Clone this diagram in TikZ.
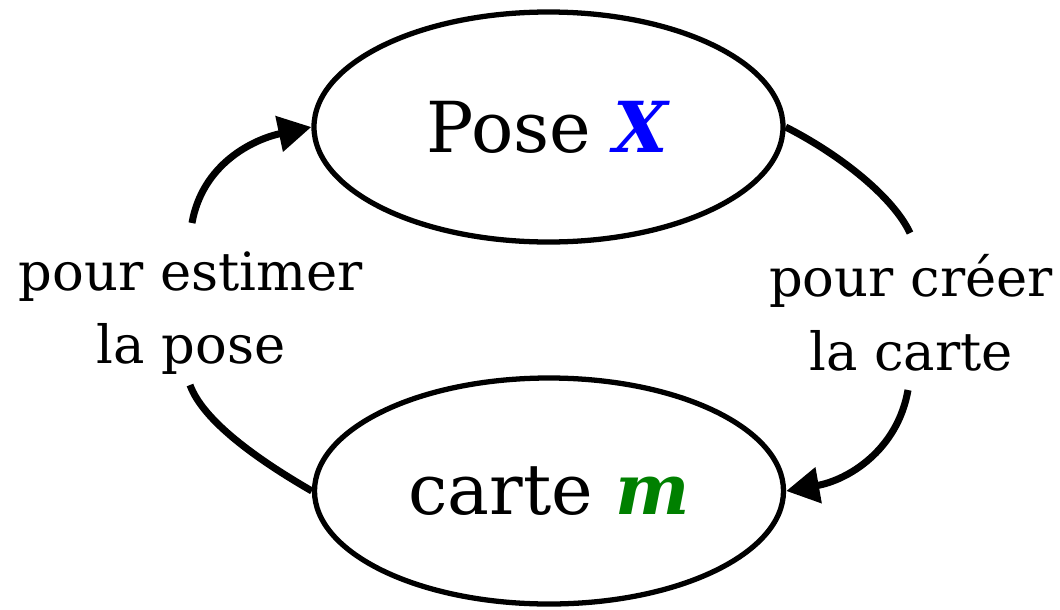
\documentclass[tikz,border=0pt]{standalone}
\usepackage{fontspec}
\setmainfont{DejaVu Serif}
\usetikzlibrary{arrows.meta,shapes.geometric}
\definecolor{poseblue}{RGB}{0,0,255}
\definecolor{mapgreen}{RGB}{0,128,0}

\begin{document}
\begin{tikzpicture}[x=1cm,y=1cm,
  bubble/.style={ellipse,draw,line width=1.5pt,inner sep=0pt,minimum width=4.69cm,font=\fontsize{20}{24}\selectfont},
  cycleedge/.style={line width=2pt,-{Triangle[length=3.3mm,width=3.5mm]}},
  why/.style={align=center,inner sep=0pt,font=\fontsize{15}{21}\selectfont}]
  \useasboundingbox (0,0) rectangle (10.6,-6.09);
  \node[bubble,minimum height=2.30cm] (pose) at (5.485,-1.27) {Pose \textcolor{poseblue}{\textbf{\textit{X}}}};
  \node[bubble,minimum height=2.26cm] (carte) at (5.49,-4.91) {carte \textcolor{mapgreen}{\textbf{\textit{m}}}};
  \node[why] (estimer) at (1.91,-3.13) {pour estimer\\la pose};
  \node[why] (creer) at (9.11,-3.13) {pour créer\\la carte};
  % the edges stop above and below the labels
  \coordinate (lbot) at (1.90,-3.85);
  \coordinate (ltop) at (1.92,-2.23);
  \coordinate (rtop) at (9.10,-2.33);
  \coordinate (rbot) at (9.08,-3.90);
  \draw[cycleedge] (carte.west) to[out=150,in=-70,in looseness=0.6] (lbot)
    (ltop) to[out=80,in=192] (pose.west);
  \draw[cycleedge] (pose.east) to[out=-27,in=115,in looseness=0.6] (rtop)
    (rbot) to[out=-100,in=10] (carte.east);
\end{tikzpicture}
\end{document}
